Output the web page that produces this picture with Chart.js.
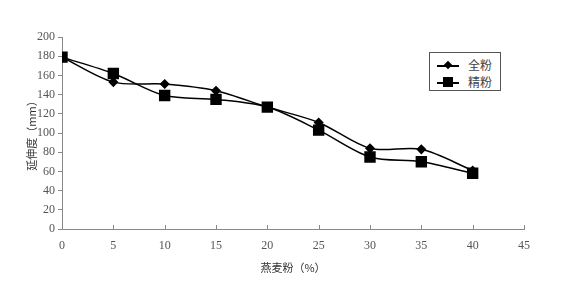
<!DOCTYPE html>
<html>
<head>
<meta charset="utf-8">
<script src="https://cdn.jsdelivr.net/npm/chart.js@4"></script>
<style>
  html, body { margin: 0; padding: 0; background: #fff; }
  #wrap { position: relative; width: 567px; height: 283px; }
  #legend {
    position: absolute; left: 429px; top: 52px; width: 72px; height: 39px;
    border: 1px solid #555; box-sizing: border-box; background: #fff;
    font: 12px "Noto Sans CJK SC", sans-serif; color: #444;
  }
  .row { position: absolute; left: 7px; height: 14px; width: 60px; }
  .row .ln { position: absolute; left: 0; top: 7px; width: 22px; height: 1.5px; background: #000; }
  .row .dia { position: absolute; left: 8px; top: 4px; width: 6px; height: 6px; background: #000; transform: rotate(45deg); }
  .row .sq { position: absolute; left: 6px; top: 2px; width: 10px; height: 10px; background: #000; }
  .row .tx { position: absolute; left: 31px; top: -2px; }
</style>
</head>
<body>
<div id="wrap">
  <canvas id="c" width="567" height="283"></canvas>
  <div id="legend">
    <div class="row" style="top:5px"><span class="ln"></span><span class="dia"></span><span class="tx">全粉</span></div>
    <div class="row" style="top:22px"><span class="ln"></span><span class="sq"></span><span class="tx">精粉</span></div>
  </div>
</div>
<script>
// 燕麦粉添加量 (%)
const oatPercent = [0, 5, 10, 15, 20, 25, 30, 35, 40];
// 延伸度 (mm)
const wholeFlour = [179, 153, 151, 144, 127, 111, 84, 83, 61];
const refinedFlour = [179, 162, 139, 135, 127, 103, 75, 70, 58];

const toPoints = (vals) => oatPercent.map((x, i) => ({ x: x, y: vals[i] }));

const tickFont = { family: '"Liberation Serif", "DejaVu Serif", serif', size: 12 };
const cjkFont = { family: '"Noto Sans CJK SC", sans-serif', size: 11 };

// x 軸刻度朝內
const innerTicks = {
  id: 'innerTicks',
  afterDraw(chart) {
    const ctx = chart.ctx;
    const xs = chart.scales.x;
    const bottom = chart.chartArea.bottom;
    ctx.save();
    ctx.strokeStyle = '#888';
    ctx.lineWidth = 1;
    xs.ticks.forEach(t => {
      const px = Math.round(xs.getPixelForValue(t.value)) + 0.5;
      ctx.beginPath();
      ctx.moveTo(px, bottom);
      ctx.lineTo(px, bottom - 4);
      ctx.stroke();
    });
    ctx.restore();
  }
};

new Chart(document.getElementById('c').getContext('2d'), {
  type: 'line',
  data: {
    datasets: [
      {
        label: '全粉',
        data: toPoints(wholeFlour),
        borderColor: '#000',
        backgroundColor: '#000',
        borderWidth: 1.5,
        tension: 0.3,
        pointStyle: 'rectRot',
        pointRadius: 4,
      },
      {
        label: '精粉',
        data: toPoints(refinedFlour),
        borderColor: '#000',
        backgroundColor: '#000',
        borderWidth: 1.5,
        tension: 0.3,
        pointStyle: 'rect',
        pointRadius: 7,
      },
    ],
  },
  options: {
    responsive: false,
    animation: false,
    layout: { padding: { top: 37, right: 43, left: 0, bottom: 0 } },
    plugins: {
      legend: { display: false },
      tooltip: { enabled: false },
    },
    scales: {
      x: {
        type: 'linear',
        min: 0,
        max: 45,
        afterFit: (s) => { s.height = 54; },
        ticks: { stepSize: 5, color: '#555', font: tickFont, padding: 10 },
        grid: { display: false, drawTicks: false },
        border: { color: '#888' },
        title: { display: true, text: '燕麦粉（%）', color: '#333', font: cjkFont, padding: { top: 0, bottom: 9 } },
      },
      y: {
        min: 0,
        max: 200,
        afterFit: (s) => { s.width = 62; },
        ticks: { stepSize: 20, color: '#555', font: tickFont, padding: 3 },
        grid: { drawOnChartArea: false, tickLength: 4, color: '#888' },
        border: { color: '#888' },
        title: { display: true, text: '延伸度（mm）', color: '#333', font: cjkFont, padding: { top: 25, bottom: 0 } },
      },
    },
  },
  plugins: [innerTicks],
});
</script>
</body>
</html>
